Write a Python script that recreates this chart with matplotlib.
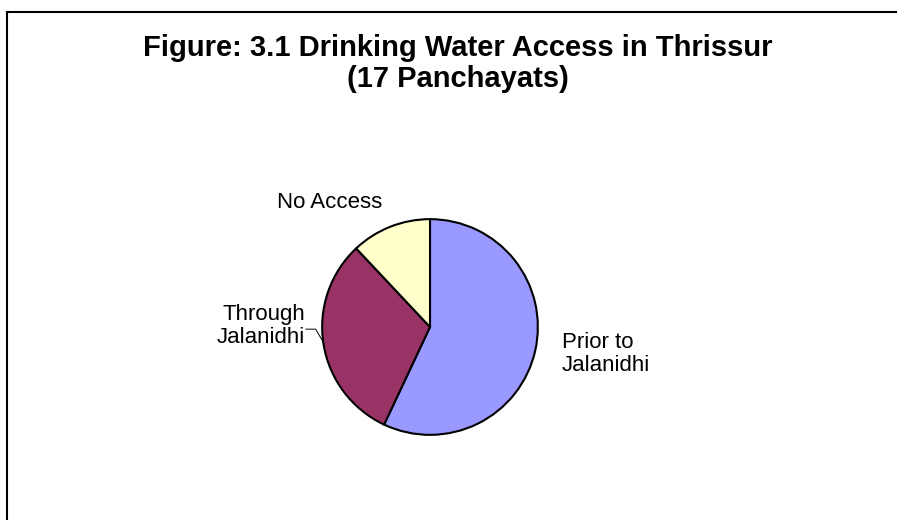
import matplotlib
matplotlib.use('Agg')
import matplotlib.pyplot as plt
from matplotlib.patches import Rectangle

# data
labels = ['Prior to\nJalanidhi', 'Through\nJalanidhi', 'No Access']
shares = [57, 31, 12]
colors = ['#9999FF', '#993366', '#FFFFCC']

plt.rcParams['font.family'] = ['Liberation Sans', 'DejaVu Sans']

W, H = 897, 520
fig = plt.figure(figsize=(W / 100, H / 100), dpi=100)

# outer chart border (right/bottom run off the picture)
fig.patches.append(Rectangle((7 / W, -0.1), 1.2, (H - 12) / H + 0.1, transform=fig.transFigure,
                             fill=False, edgecolor='black', linewidth=1.5))

fig.text(458 / W, 1 - 48 / H, 'Figure: 3.1 Drinking Water Access in Thrissur',
         ha='center', va='center', fontsize=21, fontweight='bold')
fig.text(458 / W, 1 - 79 / H, '(17 Panchayats)',
         ha='center', va='center', fontsize=21, fontweight='bold')

cx, cy, r = 430, 327, 110
ax = fig.add_axes([(cx - r) / W, (H - cy - r) / H, 2 * r / W, 2 * r / H])
ax.pie(shares, colors=colors, startangle=90, counterclock=False, radius=1,
       wedgeprops=dict(edgecolor='black', linewidth=1.5))
ax.set_xlim(-1.02, 1.02)
ax.set_ylim(-1.02, 1.02)
ax.set_aspect('equal')
ax.axis('off')

ax.text(1.22, -0.25, labels[0], ha='left', va='center', fontsize=16, linespacing=1.1, clip_on=False)
ax.text(-1.16, 0.01, labels[1], ha='right', va='center', fontsize=16, linespacing=1.1, clip_on=False)
ax.text(-0.93, 1.15, labels[2], ha='center', va='center', fontsize=16, clip_on=False)
ax.plot([-1.15, -1.06, -0.99], [-0.02, -0.02, -0.14], color='black', linewidth=0.7, clip_on=False)

fig.savefig('out.png', dpi=100)
